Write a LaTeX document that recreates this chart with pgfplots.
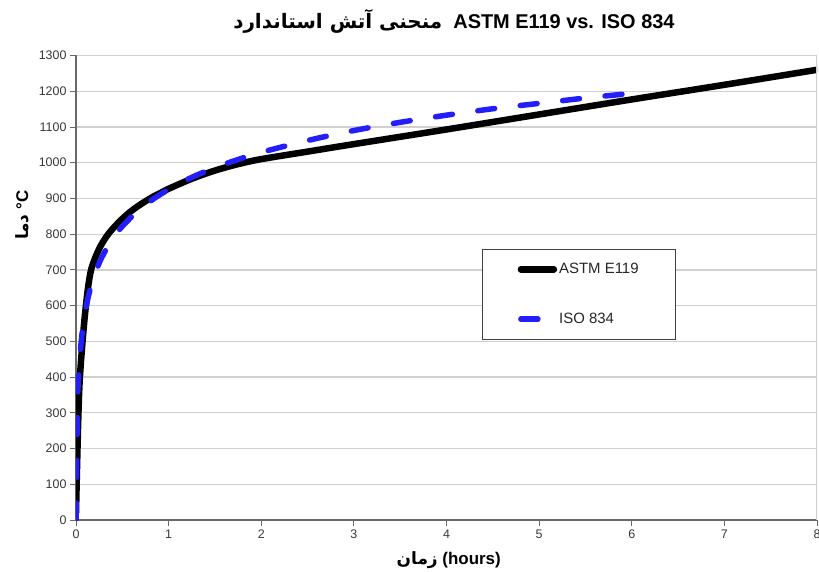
\documentclass[border=0pt]{standalone}
\usepackage{fontspec}
\setmainfont{Liberation Sans}
\newfontfamily\fa[Script=Arabic]{DejaVu Sans}
\TeXXeTstate=1
\usepackage{pgfplots}
\pgfplotsset{compat=1.18}
\definecolor{gridgray}{RGB}{208,208,208}
\definecolor{axgray}{RGB}{105,105,105}
\definecolor{isoblue}{RGB}{35,30,250}

% ASTM E119 standard curve (hours, deg C)
\pgfplotstableread{
t T
0 20
0.02 240
0.04 390
0.0833 538
0.125 640
0.1667 704
0.25 759
0.3333 795
0.4167 821
0.5 843
0.5833 862
0.6667 878
0.75 892
0.8333 905
0.9167 916
1 927
1.25 955
1.5 978
1.75 996
2 1010
2.5 1031
3 1052
4 1093
5 1135
6 1177
7 1218
8 1260
}\astm

% ISO 834 curve (hours, deg C)
\pgfplotstableread{
t T
0 0
0.0167 329
0.0333 425
0.05 482
0.0667 524
0.0833 556
0.125 616
0.1667 658
0.25 719
0.3333 761
0.4167 795
0.5 822
0.6667 865
0.8333 898
1 925
1.25 959
1.5 986
1.75 1009
2 1029
2.5 1062
3 1090
3.5 1113
4 1133
4.5 1151
5 1166
5.5 1181
6 1194
}\iso

\begin{document}
\begin{tikzpicture}
\path[use as bounding box] (-76bp,-52bp) rectangle (743bp,520bp);
\begin{axis}[
  scale only axis,
  width=741bp, height=464.5bp,
  xmin=0, xmax=8, ymin=0, ymax=1300,
  xtick={0,1,...,8}, ytick={0,100,...,1300},
  axis x line*=bottom, axis y line*=left,
  x axis line style={axgray, line width=2.4bp, -},
  y axis line style={axgray, line width=2bp, -},
  ymajorgrids,
  grid style={gridgray, line width=1.3bp},
  tick style={axgray, line width=0.9bp},
  major tick length=6bp, tick align=outside,
  ticklabel style={font=\fontsize{12.5}{14}\selectfont, text=black!78},
  /pgf/number format/assume math mode=true,
  /pgf/number format/1000 sep={},
  title={{\fa\bfseries\beginR منحنی آتش استاندارد\endR}\ \ \textbf{ASTM E119 vs. ISO 834}},
  title style={at={(axis description cs:0.510,1.0615)}, anchor=center,
    font=\fontsize{20}{24}\selectfont},
  xlabel={{\fa\bfseries\beginR زمان\endR} \textbf{(hours)}},
  xlabel style={at={(axis description cs:0.503,-0.086)}, anchor=center,
    font=\fontsize{17}{20}\selectfont},
  ylabel={{\fa\bfseries\beginR دما\endR} \textbf{°C}},
  ylabel style={at={(axis description cs:-0.073,0.656)}, anchor=center,
    font=\fontsize{17}{20}\selectfont},
  legend cell align=left,
  legend image code/.code={\draw[#1] (0bp,0bp) -- (33bp,0bp);},
  legend style={at={(axis cs:4.385,759)}, anchor=north west,
    draw=black!75, line width=1bp, fill=white,
    inner xsep=35bp, inner ysep=12bp,
    row sep=34bp, column sep=0bp,
    font=\fontsize{15}{17}\selectfont, text=black!85},
]
\addplot[black, line width=6.5bp, line cap=round, line join=round, smooth]
  table[x=t, y=T] {\astm};
\addlegendentry{ASTM E119}
\addplot[isoblue, line width=5.5bp, line cap=round, smooth,
  dash pattern=on 17bp off 25.7bp]
  table[x=t, y=T] {\iso};
\addlegendentry{ISO 834}
\draw[gridgray, line width=1.3bp] (rel axis cs:1,0) -- (rel axis cs:1,1);
\end{axis}
\end{tikzpicture}
\end{document}
